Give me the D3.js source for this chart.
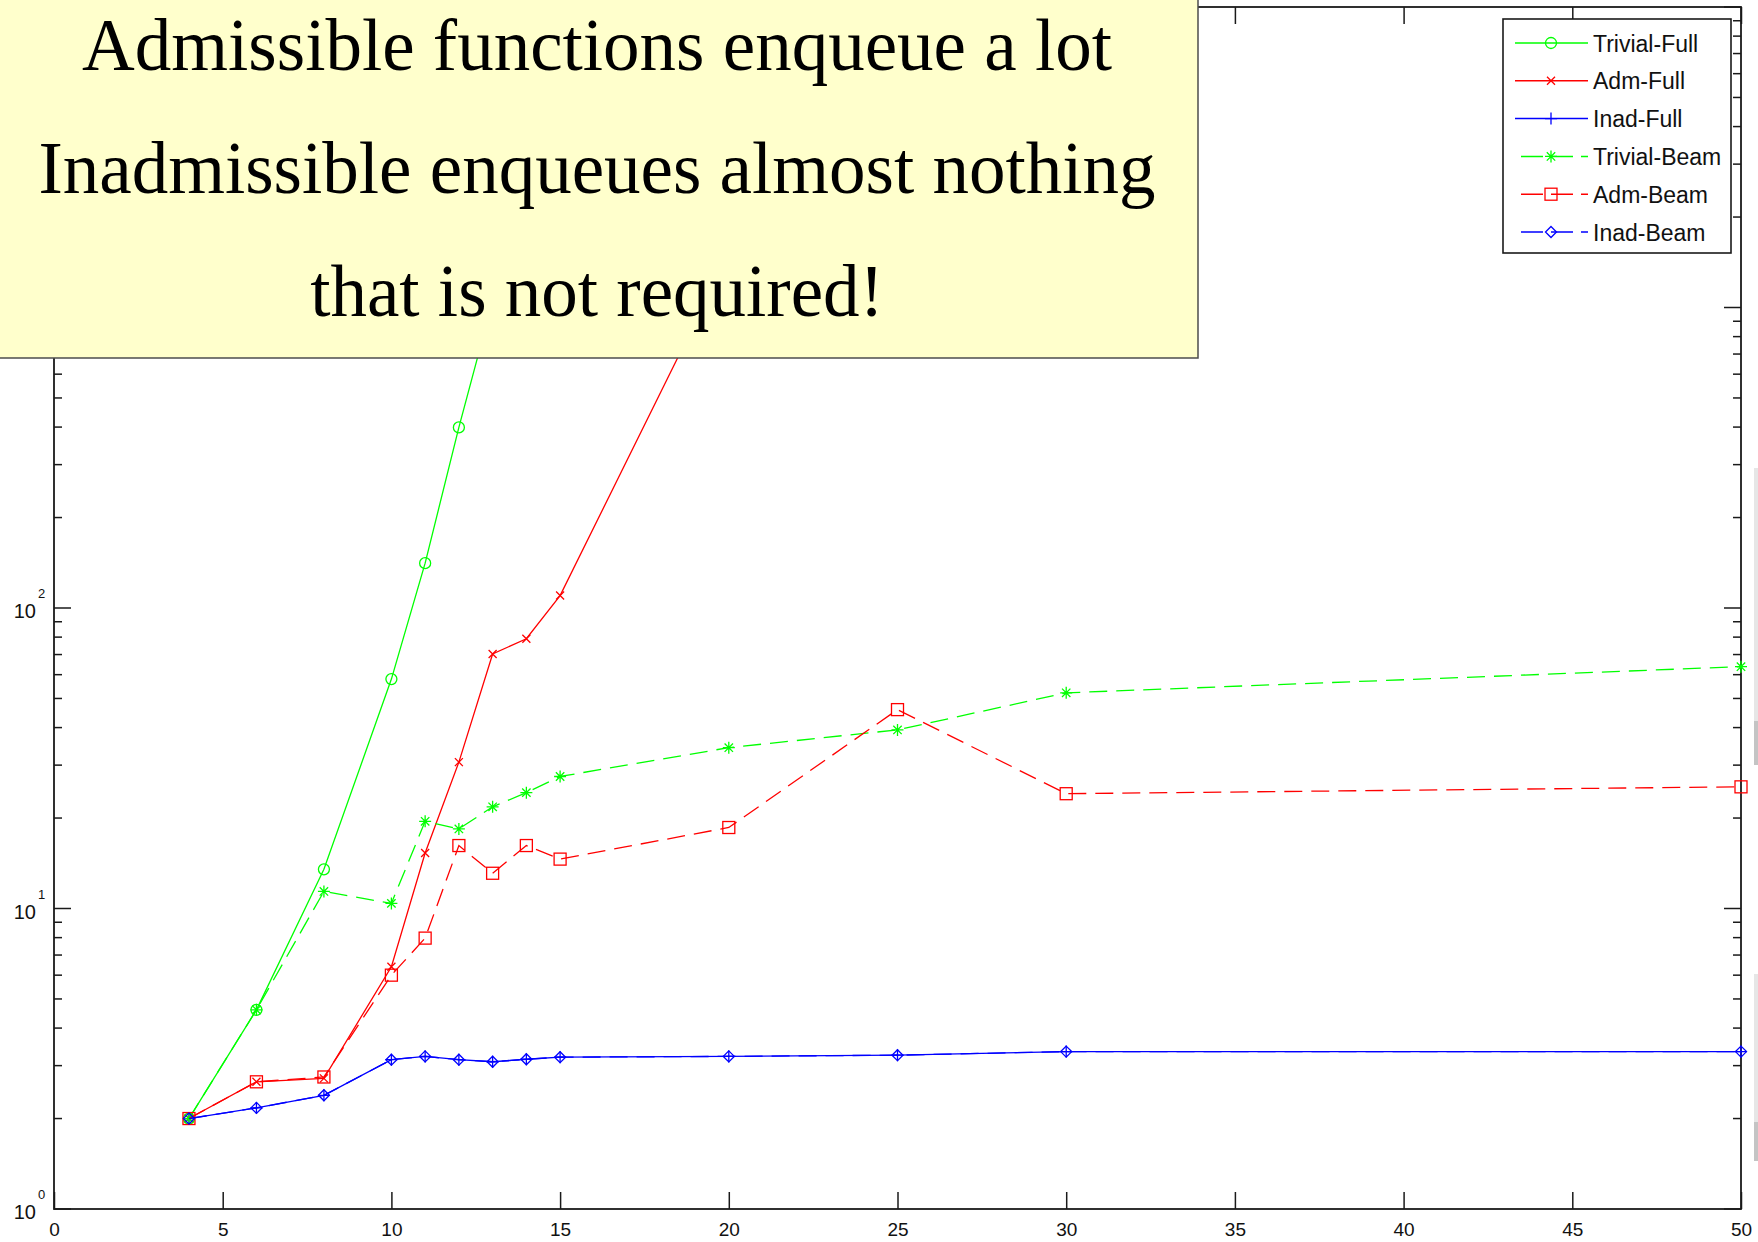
<!DOCTYPE html>
<html>
<head>
<meta charset="utf-8">
<script src="https://cdn.jsdelivr.net/npm/d3@7"></script>
<style>
  html, body { margin: 0; padding: 0; background: #fff; }
  svg { display: block; }
</style>
</head>
<body>
<svg id="chart" width="1758" height="1242"></svg>
<script>
// ---- data ----------------------------------------------------------------
const xTickValues = [0, 5, 10, 15, 20, 25, 30, 35, 40, 45, 50];
const yDecades = [0, 1, 2, 3];

const seriesNames = ["Trivial-Full", "Adm-Full", "Inad-Full", "Trivial-Beam", "Adm-Beam", "Inad-Beam"];

const trivialFullX = [4, 6, 8, 10, 11, 12, 13];
const trivialFullY = [2, 4.6, 13.5, 58, 141, 399, 1050];

const admFullX = [4, 6, 8, 10, 11, 12, 13, 14, 15, 20];
const admFullY = [2, 2.65, 2.72, 6.4, 15.3, 30.7, 70.3, 79, 110, 1500];

const beamX = [4, 6, 8, 10, 11, 12, 13, 14, 15, 20, 25, 30, 50];
const inadFullY = [2, 2.17, 2.39, 3.14, 3.22, 3.14, 3.09, 3.15, 3.2, 3.22, 3.25, 3.34, 3.34];
const trivialBeamY = [2, 4.6, 11.4, 10.4, 19.5, 18.4, 21.8, 24.3, 27.5, 34.3, 39.3, 52.2, 63.8];
const admBeamY = [2, 2.65, 2.75, 6.0, 7.97, 16.2, 13.1, 16.2, 14.6, 18.6, 45.9, 24.1, 25.4];
const inadBeamY = [2, 2.17, 2.39, 3.14, 3.22, 3.14, 3.09, 3.15, 3.2, 3.22, 3.25, 3.34, 3.34];

const noteLines = [
  "Admissible functions enqueue a lot",
  "Inadmissible enqueues almost nothing",
  "that is not required!"
];

// ---- series styling -------------------------------------------------------
const GREEN = "#00ff00", RED = "#ff0000", BLUE = "#0000ff";
const series = [
  { name: seriesNames[0], xs: trivialFullX, ys: trivialFullY, color: GREEN, dashed: false, marker: "circle" },
  { name: seriesNames[1], xs: admFullX,     ys: admFullY,     color: RED,   dashed: false, marker: "x" },
  { name: seriesNames[2], xs: beamX,        ys: inadFullY,    color: BLUE,  dashed: false, marker: "plus" },
  { name: seriesNames[3], xs: beamX,        ys: trivialBeamY, color: GREEN, dashed: true,  marker: "star" },
  { name: seriesNames[4], xs: beamX,        ys: admBeamY,     color: RED,   dashed: true,  marker: "square" },
  { name: seriesNames[5], xs: beamX,        ys: inadBeamY,    color: BLUE,  dashed: true,  marker: "diamond" }
];

// ---- layout ---------------------------------------------------------------
const svg = d3.select("#chart");
const plot = { left: 54, right: 1741, top: 7, bottom: 1209 };
const AXIS = "#1a1a1a";
const TICK_FONT = "'Liberation Sans', Arial, Helvetica, sans-serif";

const x = d3.scaleLinear().domain([0, 50]).range([plot.left, plot.right]);
const y = d3.scaleLog().domain([1, 1e4]).range([plot.bottom, plot.top]);

svg.append("rect").attr("width", 1758).attr("height", 1242).attr("fill", "#fff");

svg.append("defs").append("clipPath").attr("id", "plotClip")
  .append("rect")
  .attr("x", plot.left).attr("y", plot.top)
  .attr("width", plot.right - plot.left).attr("height", plot.bottom - plot.top);

// ---- axes (ticks point inward, box on all sides) --------------------------
const MAJOR = 17, MINOR = 8;

const xBottom = d3.axisBottom(x).tickValues(xTickValues).tickSizeInner(-MAJOR).tickSizeOuter(0).tickPadding(14);
const gxb = svg.append("g").attr("transform", `translate(0,${plot.bottom})`).call(xBottom);
gxb.select(".domain").remove();
gxb.selectAll(".tick line").attr("stroke", AXIS).attr("stroke-width", 1.5);
gxb.selectAll(".tick text").attr("fill", "#111").style("font-family", TICK_FONT).style("font-size", "19px");

const xTop = d3.axisTop(x).tickValues(xTickValues).tickSizeInner(-MAJOR).tickSizeOuter(0).tickFormat("");
const gxt = svg.append("g").attr("transform", `translate(0,${plot.top})`).call(xTop);
gxt.select(".domain").remove();
gxt.selectAll(".tick line").attr("stroke", AXIS).attr("stroke-width", 1.5);

// log ticks: decades are major, 2..9 are minor
const yTicks = y.ticks();
const isDecade = v => Math.abs(Math.log10(v) - Math.round(Math.log10(v))) < 1e-9;

const yTickG = svg.append("g");
yTickG.selectAll("line.left").data(yTicks).join("line")
  .attr("x1", plot.left).attr("x2", d => plot.left + (isDecade(d) ? MAJOR : MINOR))
  .attr("y1", d => y(d)).attr("y2", d => y(d))
  .attr("stroke", AXIS).attr("stroke-width", 1.5);
yTickG.selectAll("line.right").data(yTicks).join("line")
  .attr("x1", plot.right).attr("x2", d => plot.right - (isDecade(d) ? MAJOR : MINOR))
  .attr("y1", d => y(d)).attr("y2", d => y(d))
  .attr("stroke", AXIS).attr("stroke-width", 1.5);

// decade labels as 10 with a raised exponent
const yLab = svg.append("g").style("font-family", TICK_FONT).attr("fill", "#111");
yDecades.forEach(p => {
  const ty = y(Math.pow(10, p));
  yLab.append("text").attr("x", 36).attr("y", ty + 10)
    .attr("text-anchor", "end").style("font-size", "20px").text("10");
  yLab.append("text").attr("x", 38).attr("y", ty - 10)
    .attr("text-anchor", "start").style("font-size", "13px").text(String(p));
});

// frame
svg.append("rect")
  .attr("x", plot.left).attr("y", plot.top)
  .attr("width", plot.right - plot.left).attr("height", plot.bottom - plot.top)
  .attr("fill", "none").attr("stroke", AXIS).attr("stroke-width", 1.8);

// ---- markers --------------------------------------------------------------
function drawMarker(g, type, color) {
  const s = g.append("g").attr("fill", "none").attr("stroke", color).attr("stroke-width", 1.3);
  switch (type) {
    case "circle":  s.append("circle").attr("r", 5.5); break;
    case "x":       s.append("path").attr("d", "M-4,-4L4,4M-4,4L4,-4"); break;
    case "plus":    s.append("path").attr("d", "M-6,0H6M0,-6V6"); break;
    case "star":    s.append("path").attr("d", "M-6,0H6M0,-6V6M-4.2,-4.2L4.2,4.2M-4.2,4.2L4.2,-4.2"); break;
    case "square":  s.append("rect").attr("x", -6).attr("y", -6).attr("width", 12).attr("height", 12); break;
    case "diamond": s.append("path").attr("d", "M0,-5.5L5.5,0L0,5.5L-5.5,0Z"); break;
  }
}

// ---- series ---------------------------------------------------------------
const line = d3.line().x(d => x(d[0])).y(d => y(d[1]));
const dataG = svg.append("g");

series.forEach(s => {
  const pts = s.xs.map((xv, i) => [xv, s.ys[i]]);
  dataG.append("path")
    .datum(pts)
    .attr("clip-path", "url(#plotClip)")
    .attr("d", line)
    .attr("fill", "none")
    .attr("stroke", s.color)
    .attr("stroke-width", 1.3)
    .attr("stroke-dasharray", s.dashed ? "18,9" : null);
  pts.forEach(p => {
    const mg = dataG.append("g").attr("transform", `translate(${x(p[0])},${y(p[1])})`);
    drawMarker(mg, s.marker, s.color);
  });
});

// ---- legend ---------------------------------------------------------------
const legend = svg.append("g");
legend.append("rect")
  .attr("x", 1503).attr("y", 19).attr("width", 228).attr("height", 234)
  .attr("fill", "#fff").attr("stroke", AXIS).attr("stroke-width", 1.6);

series.forEach((s, i) => {
  const ry = 43 + i * 37.8;
  legend.append("line")
    .attr("x1", s.dashed ? 1521 : 1515).attr("x2", 1588)
    .attr("y1", ry).attr("y2", ry)
    .attr("stroke", s.color).attr("stroke-width", 1.5)
    .attr("stroke-dasharray", s.dashed ? "22,8" : null);
  const mg = legend.append("g").attr("transform", `translate(1551,${ry})`);
  drawMarker(mg, s.marker, s.color);
  legend.append("text")
    .attr("x", 1593).attr("y", ry + 8.5)
    .style("font-family", TICK_FONT).style("font-size", "23px")
    .attr("fill", "#111")
    .text(s.name);
});

// ---- callout note ---------------------------------------------------------
const note = svg.append("g");
note.append("rect")
  .attr("x", -2).attr("y", -2).attr("width", 1200).attr("height", 360)
  .attr("fill", "#ffffcc").attr("stroke", "#4d4d4d").attr("stroke-width", 1.5);
const noteBaselines = [70, 193, 316];
noteLines.forEach((t, i) => {
  note.append("text")
    .attr("x", 597).attr("y", noteBaselines[i])
    .attr("text-anchor", "middle")
    .style("font-family", "'Liberation Serif', 'Times New Roman', serif")
    .style("font-size", "73px")
    .attr("fill", "#000")
    .text(t);
});

// ---- window edge strips ---------------------------------------------------
const edge = svg.append("g");
[[468, 765, 721], [974, 1161, 1122]].forEach(([a, b, c]) => {
  edge.append("rect").attr("x", 1754).attr("y", a).attr("width", 4).attr("height", b - a).attr("fill", "#e6e6e6");
  edge.append("rect").attr("x", 1754).attr("y", c).attr("width", 4).attr("height", b - c).attr("fill", "#c4c4c4");
});
</script>
</body>
</html>
